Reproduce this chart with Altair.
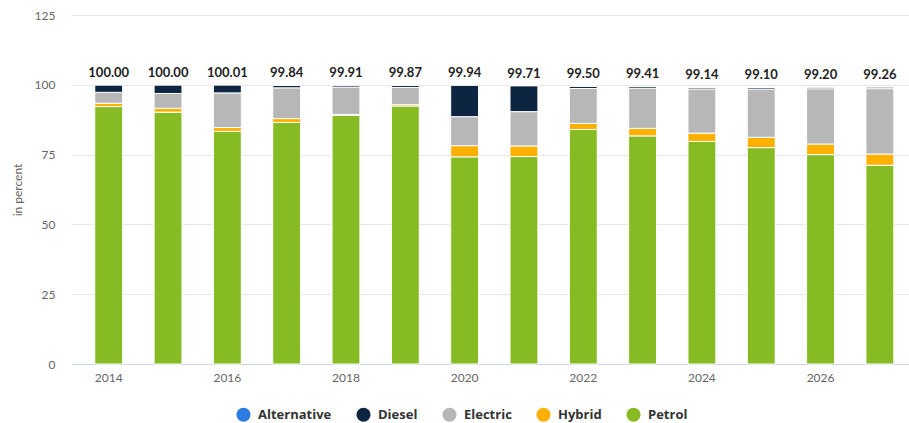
import altair as alt
import pandas as pd

# Shares of new car sales by fuel type, in percent
years = ["2014", "2015", "2016", "2017", "2018", "2019", "2020",
         "2021", "2022", "2023", "2024", "2025", "2026", "2027"]
petrol = [92.20, 90.20, 83.30, 86.50, 89.10, 92.40, 74.20,
          74.30, 84.00, 81.70, 79.70, 77.50, 75.00, 71.20]
hybrid = [1.20, 1.40, 1.40, 1.40, 0.30, 0.50, 4.00,
          3.80, 2.20, 2.70, 3.00, 3.70, 3.80, 4.00]
electric = [3.90, 5.30, 12.40, 11.02, 9.79, 6.15, 10.38,
            12.29, 12.48, 14.39, 15.82, 17.28, 19.78, 23.43]
diesel = [2.68, 3.08, 2.89, 0.90, 0.70, 0.80, 11.34,
          9.30, 0.80, 0.60, 0.60, 0.60, 0.60, 0.61]
alternative = [0.02, 0.02, 0.02, 0.02, 0.02, 0.02, 0.02,
               0.02, 0.02, 0.02, 0.02, 0.02, 0.02, 0.02]

fuel_types = ["Alternative", "Diesel", "Electric", "Hybrid", "Petrol"]
fuel_colors = ["#2b7be0", "#0d2540", "#b7b7b7", "#feb000", "#86bb24"]
# stacking order from the baseline upwards
stack_rank = {"Petrol": 0, "Hybrid": 1, "Electric": 2, "Diesel": 3, "Alternative": 4}

series = {"Petrol": petrol, "Hybrid": hybrid, "Electric": electric,
          "Diesel": diesel, "Alternative": alternative}

rows = []
for fuel, values in series.items():
    for year, v in zip(years, values):
        rows.append({"year": year, "fuel": fuel, "share": v, "rank": stack_rank[fuel]})
long_df = pd.DataFrame(rows)

totals = long_df.groupby("year", as_index=False)["share"].sum()
totals["total"] = totals["share"].round(2)

FONT = "Lato"
LEGEND_FONT = "Open Sans"

x_enc = alt.X(
    "year:N",
    sort=years,
    scale=alt.Scale(paddingInner=0.53, paddingOuter=0.32, align=0.6),
    axis=alt.Axis(
        values=years[::2], title=None, labelAngle=0, ticks=False,
        domainColor="#ccd6eb", labelColor="#666666", labelFontSize=12,
        labelPadding=8, grid=False, labelFont=FONT,
    ),
)

bars = alt.Chart(long_df).mark_bar(stroke="white", strokeWidth=1).encode(
    x=x_enc,
    y=alt.Y(
        "share:Q",
        stack="zero",
        scale=alt.Scale(domain=[0, 125], nice=False),
        axis=alt.Axis(
            values=[0, 25, 50, 75, 100, 125], title="in percent",
            domain=False, ticks=False, gridColor="#e6e6e6",
            labelColor="#666666", labelFontSize=12, labelPadding=17,
            titleColor="#666666", titleFontSize=12, titleFontWeight="normal",
            titlePadding=10, labelFont=FONT, titleFont=FONT,
        ),
    ),
    color=alt.Color(
        "fuel:N",
        scale=alt.Scale(domain=fuel_types, range=fuel_colors),
        legend=alt.Legend(
            title=None, orient="none", direction="horizontal",
            legendX=164, legendY=392, symbolType="circle", symbolSize=200,
            symbolStrokeWidth=0, labelFont=LEGEND_FONT, labelFontSize=13,
            labelFontWeight="bold", labelColor="#333333", labelOffset=7,
            columnPadding=24, padding=0,
        ),
    ),
    order=alt.Order("rank:Q", sort="ascending"),
)

labels = alt.Chart(totals).mark_text(
    font=FONT, fontSize=13, fontWeight="bold", color="#222222",
    baseline="bottom", dy=-5,
).encode(
    x=alt.X("year:N", sort=years),
    y=alt.Y("total:Q"),
    text=alt.Text("total:Q", format=".2f"),
)

chart = alt.layer(bars, labels).properties(
    width=837,
    height=349,
    autosize=alt.AutoSizeParams(type="none"),
    padding={"left": 72, "top": 15, "right": 0, "bottom": 59},
).configure_view(stroke=None)

chart.save("out.html", embed_options={"renderer": "svg", "actions": False})
